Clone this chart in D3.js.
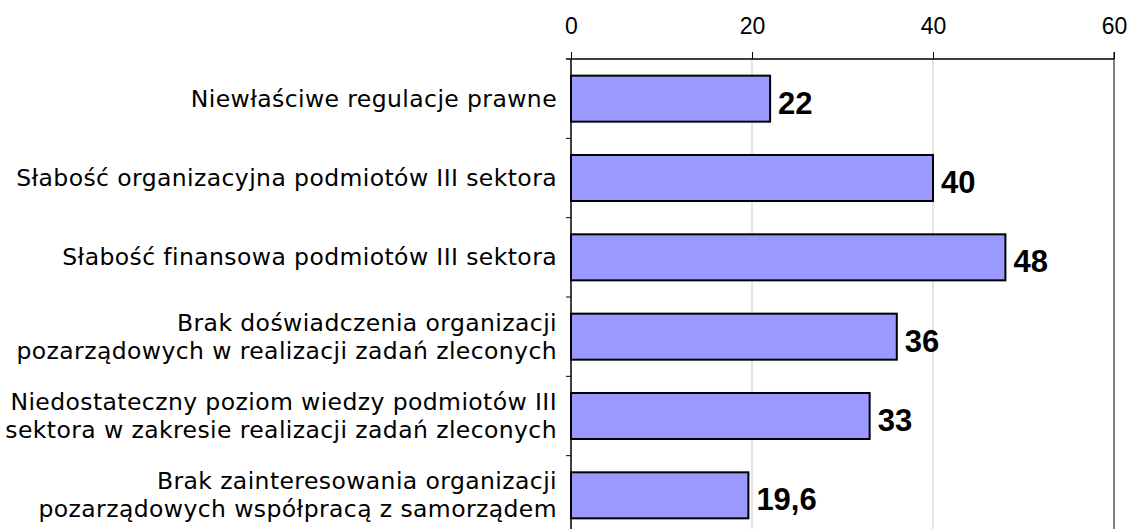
<!DOCTYPE html>
<html>
<head>
<meta charset="utf-8">
<script src="https://cdn.jsdelivr.net/npm/d3@7"></script>
<style>
  body { margin: 0; background: #fff; }
</style>
</head>
<body>
<svg width="1131" height="529"></svg>
<script>
// categories (each line of a label is one entry)
const categories = [
    ["Niewłaściwe regulacje prawne"],
    ["Słabość organizacyjna podmiotów III sektora"],
    ["Słabość finansowa podmiotów III sektora"],
    ["Brak doświadczenia organizacji", "pozarządowych w realizacji zadań zleconych"],
    ["Niedostateczny poziom wiedzy podmiotów III", "sektora w zakresie realizacji zadań zleconych"],
    ["Brak zainteresowania organizacji", "pozarządowych współpracą z samorządem"]
];
const values = [22, 40, 48, 36, 33, 19.6];
const valueLabels = ["22", "40", "48", "36", "33", "19,6"];
const xTicks = [0, 20, 40, 60];

let svg = d3.select("svg");

let x = d3.scaleLinear()
    .domain([0, 60])
    .range([571, 1114]);

let y = d3.scaleBand()
    .domain(d3.range(categories.length))
    .range([59, 535])
    .paddingInner(0.42)
    .paddingOuter(0.21);

// gridlines
svg.append("g")
    .selectAll("line")
    .data(xTicks.filter(d => d > 0 && d < 60))
    .enter()
    .append("line")
    .attr("x1", d => x(d))
    .attr("x2", d => x(d))
    .attr("y1", 59)
    .attr("y2", 529)
    .attr("stroke", "#c8c8c8")
    .attr("stroke-width", 1);

// right border
svg.append("line")
    .attr("x1", x(60)).attr("x2", x(60))
    .attr("y1", 52).attr("y2", 529)
    .attr("stroke", "#808080")
    .attr("stroke-width", 2);

// top axis
let xAxis = d3.axisTop(x)
    .tickValues(xTicks)
    .tickSize(7)
    .tickPadding(18)
    .tickSizeOuter(0);

let gx = svg.append("g")
    .attr("transform", "translate(0,59)")
    .call(xAxis);
gx.select(".domain").attr("stroke", "#000").attr("stroke-width", 1.5)
    .attr("d", `M${x(0) - 5},0H${x(60)}`);
gx.selectAll(".tick line").attr("stroke", "#000");
gx.selectAll("text")
    .style("font-family", "'Liberation Sans', Arial, sans-serif")
    .style("font-size", "23px")
    .attr("fill", "#000");

// left axis ticks at category boundaries
let step = y.step();
svg.append("g")
    .selectAll("line")
    .data(d3.range(1, categories.length))
    .enter()
    .append("line")
    .attr("x1", x(0) - 5)
    .attr("x2", x(0))
    .attr("y1", d => 59 + d * step)
    .attr("y2", d => 59 + d * step)
    .attr("stroke", "#000");

// bars
svg.append("g")
    .selectAll("rect")
    .data(values)
    .enter()
    .append("rect")
    .attr("x", x(0))
    .attr("y", (d, i) => y(i))
    .attr("width", d => x(d) - x(0))
    .attr("height", y.bandwidth())
    .attr("fill", "#9999ff")
    .attr("stroke", "#000")
    .attr("stroke-width", 2);

// left axis line
svg.append("line")
    .attr("x1", x(0)).attr("x2", x(0))
    .attr("y1", 59).attr("y2", 529)
    .attr("stroke", "#000")
    .attr("stroke-width", 1.5);

// value labels
svg.append("g")
    .selectAll("text")
    .data(values)
    .enter()
    .append("text")
    .attr("x", d => x(d) + 8)
    .attr("y", (d, i) => y(i) + y.bandwidth() / 2 + 15)
    .text((d, i) => valueLabels[i])
    .style("font-family", "'Liberation Sans', Arial, sans-serif")
    .style("font-weight", "bold")
    .style("font-size", "31px")
    .attr("fill", "#000");

// category labels
let lab = svg.append("g")
    .selectAll("text")
    .data(categories)
    .enter()
    .append("text")
    .attr("text-anchor", "end")
    .style("font-family", "'DejaVu Sans', Verdana, sans-serif")
    .style("font-size", "23.5px")
    .style("letter-spacing", "0.4px")
    .attr("fill", "#000");

lab.each(function (lines, i) {
    let cy = y(i) + y.bandwidth() / 2;
    let t = d3.select(this);
    lines.forEach((ln, k) => {
        t.append("tspan")
            .attr("x", 557)
            .attr("y", cy + 8 + (k - (lines.length - 1) / 2) * 28)
            .text(ln);
    });
});
</script>
</body>
</html>
